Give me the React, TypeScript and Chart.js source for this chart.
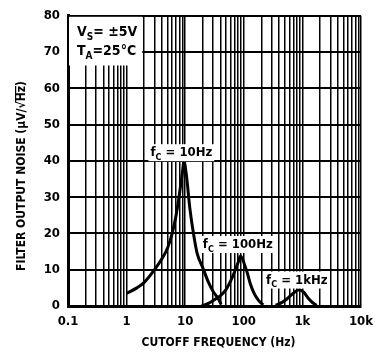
import React, { useEffect, useRef } from "react";
import { Chart, registerables } from "chart.js";

Chart.register(...registerables);

// ---- data ----
const fc10Freq = [1, 1.5, 2, 3, 4, 5, 6, 7, 8, 9, 9.5, 10.5, 12, 14, 16, 20, 25, 30, 36, 41];
const fc10Noise = [3.5, 5, 6.5, 10, 13, 16, 20, 25, 31, 37, 40, 36, 27, 19.5, 14.5, 10.5, 6.5, 4, 2.2, 0.5];

const fc100Freq = [19, 25, 32, 41, 50, 60, 70, 80, 88, 95, 105, 116, 130, 150, 180, 215];
const fc100Noise = [0, 0.7, 1.8, 3, 4.6, 7, 9.5, 12, 13.8, 13, 11, 8.9, 6, 3.5, 1.5, 0.3];

const fc1kFreq = [350, 450, 550, 700, 880, 1050, 1250, 1500, 1750];
const fc1kNoise = [0.2, 1, 2, 3.5, 4.5, 3.8, 2.2, 0.9, 0.2];

const decades = [0.1, 1, 10, 100, 1000];
const xTickLabels: Record<string, string> = {
  "0.1": "0.1",
  "1": "1",
  "10": "10",
  "100": "100",
  "1000": "1k",
  "10000": "10k",
};
const yMin = 0;
const yMax = 80;
const yStep = 10;

const FONT = '"Liberation Sans Narrow", "DejaVu Sans Condensed", "Arial Narrow", "Liberation Sans", Arial, sans-serif';

function toXY(xs: number[], ys: number[]) {
  return xs.map((x, i) => ({ x, y: ys[i] }));
}

type Part = { t: string; sub?: boolean };

function partsWidth(ctx: CanvasRenderingContext2D, parts: Part[], size: number) {
  let w = 0;
  for (const p of parts) {
    ctx.font = `bold ${p.sub ? Math.round(size * 0.7) : size}px ${FONT}`;
    w += ctx.measureText(p.t).width;
  }
  return w;
}

function drawParts(ctx: CanvasRenderingContext2D, parts: Part[], x: number, y: number, size: number) {
  let cx = x;
  ctx.textBaseline = "alphabetic";
  ctx.textAlign = "left";
  for (const p of parts) {
    const s = p.sub ? Math.round(size * 0.7) : size;
    ctx.font = `bold ${s}px ${FONT}`;
    ctx.fillText(p.t, cx, p.sub ? y + size * 0.3 : y);
    cx += ctx.measureText(p.t).width;
  }
}

const annotPlugin = {
  id: "annot",
  afterDatasetsDraw(chart: any) {
    const { ctx, scales } = chart;
    const x = scales.x;
    const y = scales.y;
    ctx.save();
    ctx.fillStyle = "#000";

    // conditions box (top-left)
    const bx0 = x.left + 1;
    const bx1 = x.getPixelForValue(1.85);
    const by0 = y.top + 1;
    const by1 = y.getPixelForValue(66.3);
    ctx.fillStyle = "#fff";
    ctx.fillRect(bx0, by0, bx1 - bx0, by1 - by0);
    ctx.fillStyle = "#000";
    drawParts(ctx, [{ t: "V" }, { t: "S", sub: true }, { t: "= ±5V" }], x.left + 9, y.getPixelForValue(74.5), 14);
    drawParts(ctx, [{ t: "T" }, { t: "A", sub: true }, { t: "=25°C" }], x.left + 9, y.getPixelForValue(69.2), 14);

    // curve labels
    const labels: { parts: Part[]; fx: number; vy: number }[] = [
      { parts: [{ t: "f" }, { t: "C", sub: true }, { t: " = 10Hz" }], fx: 8.6, vy: 42.4 },
      { parts: [{ t: "f" }, { t: "C", sub: true }, { t: " = 100Hz" }], fx: 79, vy: 17.1 },
      { parts: [{ t: "f" }, { t: "C", sub: true }, { t: " = 1kHz" }], fx: 805, vy: 7.3 },
    ];
    for (const l of labels) {
      const cx = x.getPixelForValue(l.fx);
      const cy = y.getPixelForValue(l.vy);
      const w = partsWidth(ctx, l.parts, 13);
      ctx.fillStyle = "#fff";
      ctx.fillRect(cx - w / 2 - 2, cy - 8, w + 4, 17);
      ctx.fillStyle = "#000";
      drawParts(ctx, l.parts, cx - w / 2, cy + 4, 13);
    }
    ctx.restore();
  },
  afterDraw(chart: any) {
    const { ctx, chartArea } = chart;
    ctx.save();
    ctx.fillStyle = "#000";
    ctx.textAlign = "center";
    ctx.textBaseline = "middle";
    // x title
    ctx.font = `bold 12px ${FONT}`;
    ctx.fillText("CUTOFF FREQUENCY (Hz)", (chartArea.left + chartArea.right) / 2 + 4, 343);
    // y title
    ctx.translate(22, 176);
    ctx.rotate(-Math.PI / 2);
    ctx.font = `bold 12px ${FONT}`;
    const t1 = "FILTER OUTPUT NOISE (μV/√";
    const t2 = "Hz";
    const t3 = ")";
    const w1 = ctx.measureText(t1).width;
    const w2 = ctx.measureText(t2).width;
    const w3 = ctx.measureText(t3).width;
    const total = w1 + w2 + w3;
    ctx.textAlign = "left";
    let px = -total / 2;
    ctx.fillText(t1, px, 0);
    px += w1;
    ctx.fillText(t2, px, 0);
    ctx.fillRect(px - 1, -7, w2 + 1, 1.2);
    px += w2;
    ctx.fillText(t3, px, 0);
    ctx.restore();
  },
};

export default function App() {
  const ref = useRef<HTMLCanvasElement>(null);
  useEffect(() => {
    if (!ref.current) return;
    const ds = (xs: number[], ys: number[]) => ({
      data: toXY(xs, ys),
      borderColor: "#000",
      borderWidth: 3,
      pointRadius: 0,
      fill: false,
      tension: 0.4,
      cubicInterpolationMode: "monotone" as const,
    });
    const chart = new Chart(ref.current, {
      type: "line",
      data: {
        datasets: [ds(fc10Freq, fc10Noise), ds(fc100Freq, fc100Noise), ds(fc1kFreq, fc1kNoise)],
      },
      options: {
        animation: false,
        responsive: false,
        layout: { padding: { top: 12, right: 16, left: 0, bottom: 0 } },
        plugins: { legend: { display: false }, tooltip: { enabled: false } },
        scales: {
          x: {
            type: "logarithmic",
            min: 0.1,
            max: 10000,
            afterBuildTicks: (scale: any) => {
              const ticks: { value: number }[] = [];
              for (const d of decades) {
                for (let m = 1; m <= 9; m++) ticks.push({ value: +(d * m).toPrecision(6) });
              }
              ticks.push({ value: 10000 });
              scale.ticks = ticks;
            },
            afterFit: (scale: any) => {
              scale.height = 46;
            },
            ticks: {
              autoSkip: false,
              maxRotation: 0,
              minRotation: 0,
              padding: 8,
              color: "#000",
              font: { family: FONT, size: 13, weight: "bold" },
              callback: (v: any) => xTickLabels[String(v)] ?? "",
            },
            grid: { color: "#000", lineWidth: 1.5, drawTicks: false },
            border: { color: "#000", width: 3 },
          },
          y: {
            min: yMin,
            max: yMax,
            ticks: {
              stepSize: yStep,
              padding: 8,
              color: "#000",
              font: { family: FONT, size: 13, weight: "bold" },
            },
            afterFit: (scale: any) => {
              scale.width = 68;
            },
            grid: { color: "#000", lineWidth: 2, drawTicks: false },
            border: { color: "#000", width: 3 },
          },
        },
      },
      plugins: [annotPlugin],
    });
    return () => chart.destroy();
  }, []);
  return (
    <div style={{ position: "fixed", left: 0, top: 0, width: 381, height: 352, background: "#fff" }}>
      <canvas ref={ref} width={381} height={352} style={{ width: 381, height: 352 }} />
    </div>
  );
}
